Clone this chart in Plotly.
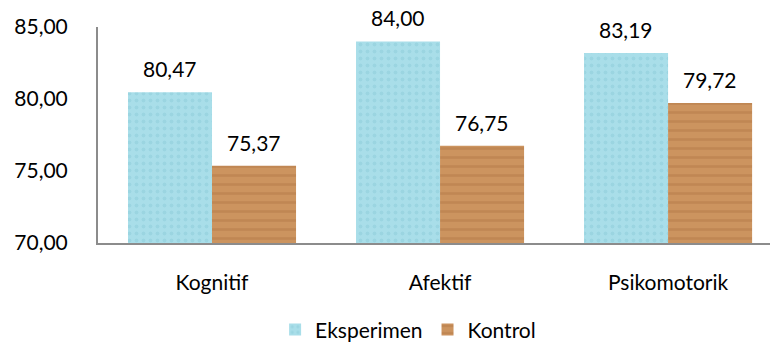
import plotly.graph_objects as go

categories = ["Kognitif", "Afektif", "Psikomotorik"]
eksperimen = [80.47, 84.00, 83.19]
kontrol = [75.37, 76.75, 79.72]
series_names = ["Eksperimen", "Kontrol"]
y_ticks = [70, 75, 80, 85]

FONT = "Lato"
FS = 21
fig = go.Figure()
fig.add_trace(go.Bar(
    name=series_names[0], x=categories, y=eksperimen,
    marker=dict(color="#A9DEE9", line=dict(width=0),
                pattern=dict(shape=".", fgcolor="#8DCBDA", size=7, solidity=0.25, fillmode="overlay")),
))
fig.add_trace(go.Bar(
    name=series_names[1], x=categories, y=kontrol,
    marker=dict(color="#CC945F", line=dict(width=0),
                pattern=dict(shape="-", fgcolor="#B47A48", size=9, solidity=0.3, fillmode="overlay")),
))

# value labels
for vals, sh in ((eksperimen, -42), (kontrol, 42)):
    for c, v in zip(categories, vals):
        fig.add_annotation(x=c, y=v, xshift=sh, yshift=9, yanchor="bottom",
                           text=f"{v:.2f}".replace(".", ","), showarrow=False,
                           font=dict(family=FONT, size=FS, color="#000"))

fig.update_layout(
    width=770, height=348,
    margin=dict(l=98, r=0, t=27, b=105),
    paper_bgcolor="white", plot_bgcolor="white",
    barmode="group", bargap=0.263, bargroupgap=0,
    separators=",.",
    font=dict(family=FONT, size=FS, color="#000"),
    showlegend=True,
    legend=dict(orientation="h", xref="container", yref="container",
                x=0.53, y=0.052, xanchor="center", yanchor="middle",
                font=dict(family=FONT, size=FS), itemwidth=30, traceorder="normal"),
)
fig.update_xaxes(range=[-0.5, 2.447], showline=True, linecolor="#8C8C8C", linewidth=2,
                 ticks="", ticklabelstandoff=20, showgrid=False, zeroline=False)
fig.update_yaxes(range=[70, 85], tickvals=y_ticks, tickformat=".2f", showline=True,
                 linecolor="#8C8C8C", linewidth=2, ticks="", ticklabelstandoff=24,
                 showgrid=False, zeroline=False)

fig.write_html("out.html")
